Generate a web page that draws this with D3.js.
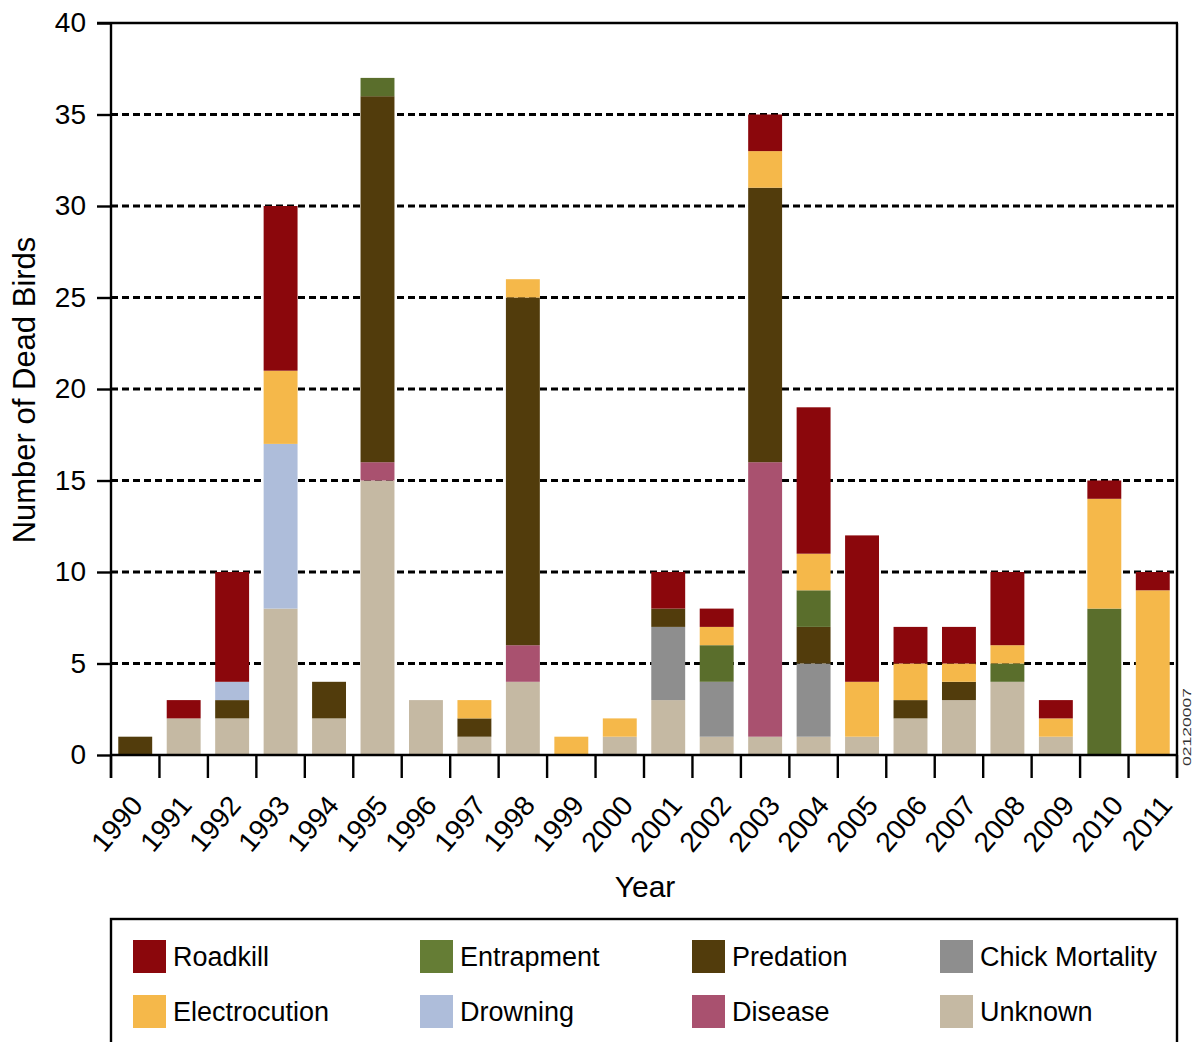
<!DOCTYPE html>
<html><head><meta charset="utf-8">
<script src="https://cdn.jsdelivr.net/npm/d3@7"></script>
<style>body{margin:0;background:#fff}svg{display:block}text{font-family:"Liberation Sans",Arial,sans-serif}</style>
</head><body>
<svg id="c" width="1194" height="1042"></svg>
<script>
const years = ["1990","1991","1992","1993","1994","1995","1996","1997","1998","1999","2000","2001","2002","2003","2004","2005","2006","2007","2008","2009","2010","2011"];
const unknown       = [0,2,2,8,2,15,3,1,4,0,1,3,1,1,1,1,2,3,4,1,0,0];
const chickMortality= [0,0,0,0,0,0,0,0,0,0,0,4,3,0,4,0,0,0,0,0,0,0];
const disease       = [0,0,0,0,0,1,0,0,2,0,0,0,0,15,0,0,0,0,0,0,0,0];
const predation     = [1,0,1,0,2,20,0,1,19,0,0,1,0,15,2,0,1,1,0,0,0,0];
const drowning      = [0,0,1,9,0,0,0,0,0,0,0,0,0,0,0,0,0,0,0,0,0,0];
const entrapment    = [0,0,0,0,0,1,0,0,0,0,0,0,2,0,2,0,0,0,1,0,8,0];
const electrocution = [0,0,0,4,0,0,0,1,1,1,1,0,1,2,2,3,2,1,1,1,6,9];
const roadkill      = [0,1,6,9,0,0,0,0,0,0,0,2,1,2,8,8,2,2,4,1,1,1];
const yTicks = [0,5,10,15,20,25,30,35,40];

const series = [
  {key:"Unknown", values:unknown, color:"#c5b9a3"},
  {key:"Chick Mortality", values:chickMortality, color:"#8e8e8e"},
  {key:"Disease", values:disease, color:"#a9516f"},
  {key:"Predation", values:predation, color:"#523c0c"},
  {key:"Drowning", values:drowning, color:"#aebdda"},
  {key:"Entrapment", values:entrapment, color:"#5a6e2c"},
  {key:"Electrocution", values:electrocution, color:"#f5b84a"},
  {key:"Roadkill", values:roadkill, color:"#8b070c"}
];
const legendOrder = ["Roadkill","Entrapment","Predation","Chick Mortality","Electrocution","Drowning","Disease","Unknown"];
const legendColors = {"Roadkill":"#8b070c","Entrapment":"#657d35","Predation":"#523c0c","Chick Mortality":"#8e8e8e","Electrocution":"#f5b84a","Drowning":"#aebdda","Disease":"#a9516f","Unknown":"#c5b9a3"};

const svg = d3.select("#c");
const L=111, R=1177, T=23, B=755;
const x = d3.scaleBand().domain(years).range([L,R]).paddingInner(0.3).paddingOuter(0.15);
const y = d3.scaleLinear().domain([0,40]).range([B,T]);

const table = years.map((yr,i)=>{const o={year:yr}; series.forEach(s=>o[s.key]=s.values[i]); return o;});
const stack = d3.stack().keys(series.map(s=>s.key))(table);

// gridlines
svg.append("g").selectAll("line").data(yTicks.filter(t=>t>0&&t<40)).join("line")
  .attr("x1",L).attr("x2",R).attr("y1",d=>y(d)).attr("y2",d=>y(d))
  .attr("stroke","#000").attr("stroke-width",3).attr("stroke-dasharray","7,4");

// bars
svg.append("g").selectAll("g").data(stack).join("g")
  .attr("fill",(d,i)=>series[i].color)
  .selectAll("rect").data(d=>d.filter(p=>p[1]-p[0]>0)).join("rect")
  .attr("x",d=>x(d.data.year)).attr("width",x.bandwidth())
  .attr("y",d=>y(d[1])).attr("height",d=>y(d[0])-y(d[1]));

// frame
svg.append("line").attr("x1",L-14).attr("x2",R+1).attr("y1",T).attr("y2",T).attr("stroke","#000").attr("stroke-width",2.4);
svg.append("line").attr("x1",R).attr("x2",R).attr("y1",T).attr("y2",B+23).attr("stroke","#000").attr("stroke-width",2.4);

// y axis
const ya = svg.append("g").attr("transform",`translate(${L},0)`)
  .call(d3.axisLeft(y).tickValues(yTicks).tickSize(14).tickPadding(11));
ya.select(".domain").attr("stroke-width",2.4).attr("d",`M0,${T}V${B+23}`);
ya.selectAll(".tick line").attr("stroke-width",2.4);
ya.selectAll("text").attr("font-size",28).attr("fill","#000").attr("font-family","Liberation Sans, Arial, sans-serif");

// x axis ticks at band boundaries
const bounds = years.map(yr=>x(yr)-x.step()*x.paddingInner()/2);
bounds.push(R);
svg.append("line").attr("x1",L).attr("x2",R).attr("y1",B).attr("y2",B).attr("stroke","#000").attr("stroke-width",2.4);
svg.append("g").selectAll("line").data(bounds).join("line")
  .attr("x1",d=>d).attr("x2",d=>d).attr("y1",B).attr("y2",B+23).attr("stroke","#000").attr("stroke-width",2.4);
const xl = d3.scalePoint().domain(years)
  .range([x(years[0])+x.bandwidth()/2+9, x(years[years.length-1])+x.bandwidth()/2+21]);
svg.append("g").selectAll("text").data(years).join("text")
  .attr("transform",d=>`translate(${xl(d)},${B+51}) rotate(-50)`)
  .attr("text-anchor","end").attr("font-size",28).text(d=>d);

// axis titles
svg.append("text").attr("transform",`translate(35,${(T+B)/2+1}) rotate(-90)`)
  .attr("text-anchor","middle").attr("font-size",31).text("Number of Dead Birds");
svg.append("text").attr("x",645).attr("y",897).attr("text-anchor","middle").attr("font-size",30).text("Year");

// side code
svg.append("text").attr("transform",`translate(1191,727) rotate(-90)`)
  .attr("text-anchor","middle").attr("font-size",11).attr("fill","#333")
  .attr("textLength",78).attr("lengthAdjust","spacingAndGlyphs").text("02120007");

// legend
svg.append("rect").attr("x",L).attr("y",919).attr("width",R-L).attr("height",140)
  .attr("fill","none").attr("stroke","#000").attr("stroke-width",2.4);
const colX=[133,420,692,940], rowY=[940,995];
const lg = svg.append("g").selectAll("g").data(legendOrder).join("g")
  .attr("transform",(d,i)=>`translate(${colX[i%4]},${rowY[Math.floor(i/4)]})`);
lg.append("rect").attr("width",33).attr("height",33).attr("fill",d=>legendColors[d]);
lg.append("text").attr("x",40).attr("y",17).attr("dy","0.35em").attr("font-size",27).text(d=>d);
</script>
</body></html>
